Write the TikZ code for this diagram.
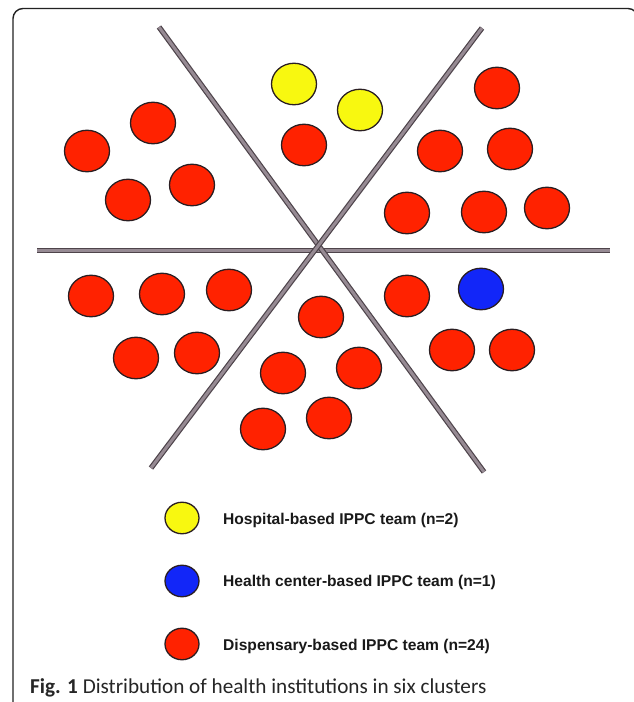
\documentclass[tikz,border=0pt]{standalone}
\usepackage{fontspec}
\setmainfont{Liberation Sans}
\newfontfamily\capfont{Carlito}
\usetikzlibrary{shapes.geometric}
\definecolor{dotred}{HTML}{FF2200}
\definecolor{dotyellow}{HTML}{F8F810}
\definecolor{dotblue}{HTML}{1226F8}
\definecolor{dotedge}{HTML}{2A1E22}
\definecolor{lineedge}{HTML}{4E444B}
\definecolor{linefill}{HTML}{968A93}
\definecolor{frameline}{HTML}{222222}
\tikzset{
  dot/.style={shape=ellipse, draw=dotedge, line width=1.3pt, inner sep=0pt,
    minimum width=45pt, minimum height=41.5pt},
  reddot/.style={dot, fill=dotred},
  yellowdot/.style={dot, fill=dotyellow},
  bluedot/.style={dot, fill=dotblue},
  keydot/.style={shape=ellipse, draw=dotedge, line width=1.3pt, inner sep=0pt,
    minimum width=34pt, minimum height=31.5pt},
  divider/.style={draw=lineedge, line width=1.2pt, double=linefill, double distance=3pt},
  keytext/.style={anchor=west, inner sep=0pt, font=\fontsize{15.6}{18}\selectfont\bfseries, text=black!90},
}
\begin{document}
\begin{tikzpicture}[x=1pt,y=-1pt]
\useasboundingbox (0,0) rectangle (634,702);
\fill[white] (0,0) rectangle (634,702);
\begin{scope}
  \clip (0,0) rectangle (634,702);
  \draw[frameline, line width=1.4pt, rounded corners=10pt] (13,8.5) rectangle (638,714);
\end{scope}
% divider lines
\coordinate (hL) at (37,250.5);
\coordinate (hR) at (610,250.5);
\coordinate (d1T) at (159,27);
\coordinate (d1B) at (484,472);
\coordinate (d2T) at (482,28);
\coordinate (d2B) at (151,468);
\draw[divider] (hL) -- (hR);
\draw[divider] (d1T) -- (d1B);
\draw[divider] (d2T) -- (d2B);
% upper-left cluster
\node[reddot] (ul1) at (87,151) {};
\node[reddot] (ul2) at (153,123) {};
\node[reddot] (ul3) at (128,200) {};
\node[reddot] (ul4) at (192,185) {};
% top cluster
\node[yellowdot] (t1) at (294,84) {};
\node[yellowdot] (t2) at (360,110) {};
\node[reddot] (t3) at (304,145) {};
% upper-right cluster
\node[reddot] (ur1) at (497,88) {};
\node[reddot] (ur2) at (440,151) {};
\node[reddot] (ur3) at (510,149) {};
\node[reddot] (ur4) at (407,213) {};
\node[reddot] (ur5) at (484,212) {};
\node[reddot] (ur6) at (547,208) {};
% lower-left cluster
\node[reddot] (ll1) at (91,296) {};
\node[reddot] (ll2) at (162,294) {};
\node[reddot] (ll3) at (229,290) {};
\node[reddot] (ll4) at (136,358) {};
\node[reddot] (ll5) at (197,353) {};
% bottom cluster
\node[reddot] (b1) at (321,317) {};
\node[reddot] (b2) at (283,373) {};
\node[reddot] (b3) at (359,368) {};
\node[reddot] (b4) at (263,429) {};
\node[reddot] (b5) at (329,418) {};
% lower-right cluster
\node[reddot] (lr1) at (407,296) {};
\node[bluedot] (lr2) at (481,289) {};
\node[reddot] (lr3) at (452,350) {};
\node[reddot] (lr4) at (512,350) {};
% legend
\node[keydot, fill=dotyellow] (k1) at (182,518) {};
\node[keydot, fill=dotblue] (k2) at (182,581) {};
\node[keydot, fill=dotred] (k3) at (182,644) {};
\node[keytext] (k1t) at (223,520) {Hospital-based IPPC team (n=2)};
\node[keytext] (k2t) at (223,582) {Health center-based IPPC team (n=1)};
\node[keytext] (k3t) at (223,646) {Dispensary-based IPPC team (n=24)};
% caption
\node[anchor=base west, inner sep=0pt, font=\capfont\fontsize{21.2}{24}\selectfont, text=black!85] (cap) at (30,693) {\textbf{Fig. 1} Distribution of health institutions in six clusters};
\end{tikzpicture}
\end{document}
